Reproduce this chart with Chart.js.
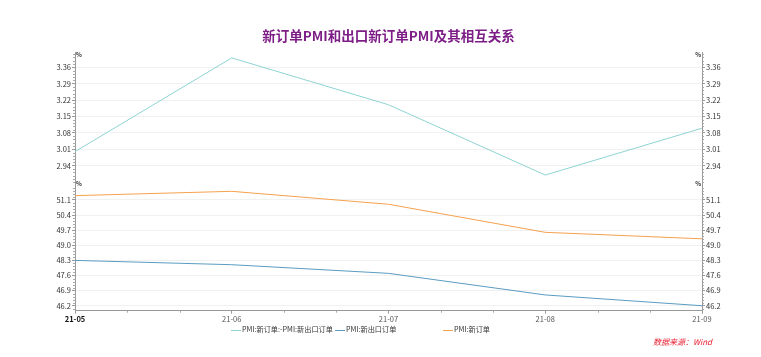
<!DOCTYPE html>
<html><head><meta charset="utf-8">
<script src="https://cdn.jsdelivr.net/npm/chart.js@4"></script>
<style>
body{margin:0;background:#fff;}
#wrap{position:relative;width:761px;height:357px;overflow:hidden;}
canvas{position:absolute;left:0;top:0;}
.lg{position:absolute;top:323px;font:7.2px "Noto Sans CJK SC",sans-serif;color:#333;white-space:nowrap;line-height:12px;}
.lg i{display:inline-block;width:10px;height:0;border-top:1px solid;vertical-align:middle;margin-right:1px;}
#src{position:absolute;left:653px;top:336px;font:italic 8px "Noto Sans CJK SC",sans-serif;color:#e8192c;line-height:12px;}
</style></head>
<body>
<div id="wrap">
<canvas id="c" width="761" height="357"></canvas>
<div class="lg" id="lg0" style="left:231px"></div>
<div class="lg" id="lg1" style="left:335px"></div>
<div class="lg" id="lg2" style="left:443px"></div>
<div id="src">数据来源：Wind</div>
</div>
<script>
const categories = ['21-05','21-06','21-07','21-08','21-09'];
const spreadValues = [3.0, 3.4, 3.2, 2.9, 3.1];
const exportOrders = [48.3, 48.1, 47.7, 46.7, 46.2];
const newOrders = [51.3, 51.5, 50.9, 49.6, 49.3];
const topTicks = [2.94, 3.01, 3.08, 3.15, 3.22, 3.29, 3.36];
const bottomTicks = [46.2, 46.9, 47.6, 48.3, 49.0, 49.7, 50.4, 51.1];
const seriesNames = ['PMI:新订单:-PMI:新出口订单', 'PMI:新出口订单', 'PMI:新订单'];
const seriesColors = ['#8fd4d2', '#5b9cc2', '#f5a14d'];

const FONT = '"Noto Sans CJK SC", "Noto Sans", sans-serif';

seriesNames.forEach((n, i) => {
  const el = document.getElementById('lg' + i);
  el.innerHTML = '<i style="border-color:' + seriesColors[i] + '"></i>';
  el.appendChild(document.createTextNode(n));
});

function yAxis(pos, min, max, ticksArr, dec, weight) {
  return {
    type: 'linear', position: pos, stack: pos, stackWeight: 1, weight: weight,
    min: min, max: max,
    afterBuildTicks: s => { s.ticks = ticksArr.map(v => ({ value: v })); },
    afterFit: s => { s.width = pos === 'left' ? 75 : 59; },
    ticks: { autoSkip: false, font: { size: 7.5, family: FONT }, color: '#333', padding: 1,
      callback: v => Number(v).toFixed(dec) },
    grid: { color: '#f1f1f1', lineWidth: 1, tickLength: 3, tickColor: '#999',
      drawOnChartArea: pos === 'left' },
    border: { color: '#999', width: 1 }
  };
}

const decor = {
  id: 'decor',
  afterDraw(chart) {
    const ctx = chart.ctx;
    ctx.save();
    ctx.strokeStyle = '#aaa';
    ctx.lineWidth = 1;
    ['yTop', 'yBot', 'yTopR', 'yBotR'].forEach(id => {
      const s = chart.scales[id];
      const t = s.ticks.map(k => k.value);
      const step = (t[1] - t[0]) / 5;
      const isLeft = s.position === 'left';
      const x = isLeft ? s.right : s.left;
      for (let k = -20; k < 100; k++) {
        const v = t[0] + k * step;
        if (v < s.min || v > s.max) continue;
        if (k % 5 === 0) continue;
        const y = Math.round(s.getPixelForValue(v)) + 0.5;
        ctx.beginPath();
        ctx.moveTo(x + 0.5, y);
        ctx.lineTo(isLeft ? x - 2 : x + 2, y);
        ctx.stroke();
      }
      ctx.fillStyle = '#333';
      ctx.font = 'bold 6px ' + FONT;
      ctx.textAlign = isLeft ? 'left' : 'right';
      ctx.textBaseline = 'middle';
      ctx.fillText('%', isLeft ? x + 1 : x - 1, s.top + 2);
    });
    const xs = chart.scales.x;
    const y0 = xs.top;
    for (let i = 0; i < categories.length - 1; i++) {
      const a = xs.getPixelForValue(i), b = xs.getPixelForValue(i + 1);
      for (let j = 1; j < 3; j++) {
        const x = Math.round(a + (b - a) * j / 3) + 0.5;
        ctx.beginPath();
        ctx.moveTo(x, y0);
        ctx.lineTo(x, y0 + 2);
        ctx.stroke();
      }
    }
    ctx.restore();
  }
};

new Chart(document.getElementById('c'), {
  type: 'line',
  data: {
    labels: categories,
    datasets: [
      { label: seriesNames[0], data: spreadValues, yAxisID: 'yTop', borderColor: seriesColors[0], backgroundColor: seriesColors[0], borderWidth: 1, pointRadius: 0, tension: 0 },
      { label: seriesNames[1], data: exportOrders, yAxisID: 'yBot', borderColor: seriesColors[1], backgroundColor: seriesColors[1], borderWidth: 1, pointRadius: 0, tension: 0 },
      { label: seriesNames[2], data: newOrders, yAxisID: 'yBot', borderColor: seriesColors[2], backgroundColor: seriesColors[2], borderWidth: 1, pointRadius: 0, tension: 0 }
    ]
  },
  options: {
    responsive: false,
    animation: false,
    layout: { padding: { left: 0, right: 0, top: 0, bottom: 26.3 } },
    plugins: {
      legend: { display: false },
      tooltip: { enabled: false },
      title: {
        display: true, fullSize: false,
        text: '新订单PMI和出口新订单PMI及其相互关系',
        color: '#7d1d86',
        font: { size: 13.5, weight: 'bold', family: FONT },
        padding: { top: 27.3, bottom: 9 }
      }
    },
    scales: {
      x: {
        type: 'category', offset: false,
        afterFit: s => { s.height = 20; },
        grid: { drawOnChartArea: false, tickLength: 3, tickColor: '#999' },
        border: { color: '#999', width: 1 },
        ticks: { autoSkip: false, maxRotation: 0, padding: 1,
          font: c => ({ size: 7.5, family: FONT, weight: c.index === 0 ? 'bold' : 'normal' }),
          color: c => c.index === 0 ? '#111' : '#555' }
      },
      yTop: yAxis('left', 2.872, 3.423, topTicks, 2, 2),
      yBot: yAxis('left', 45.97, 51.95, bottomTicks, 1, 1),
      yTopR: yAxis('right', 2.872, 3.423, topTicks, 2, 1),
      yBotR: yAxis('right', 45.97, 51.95, bottomTicks, 1, 2)
    }
  },
  plugins: [decor]
});
</script>
</body></html>
